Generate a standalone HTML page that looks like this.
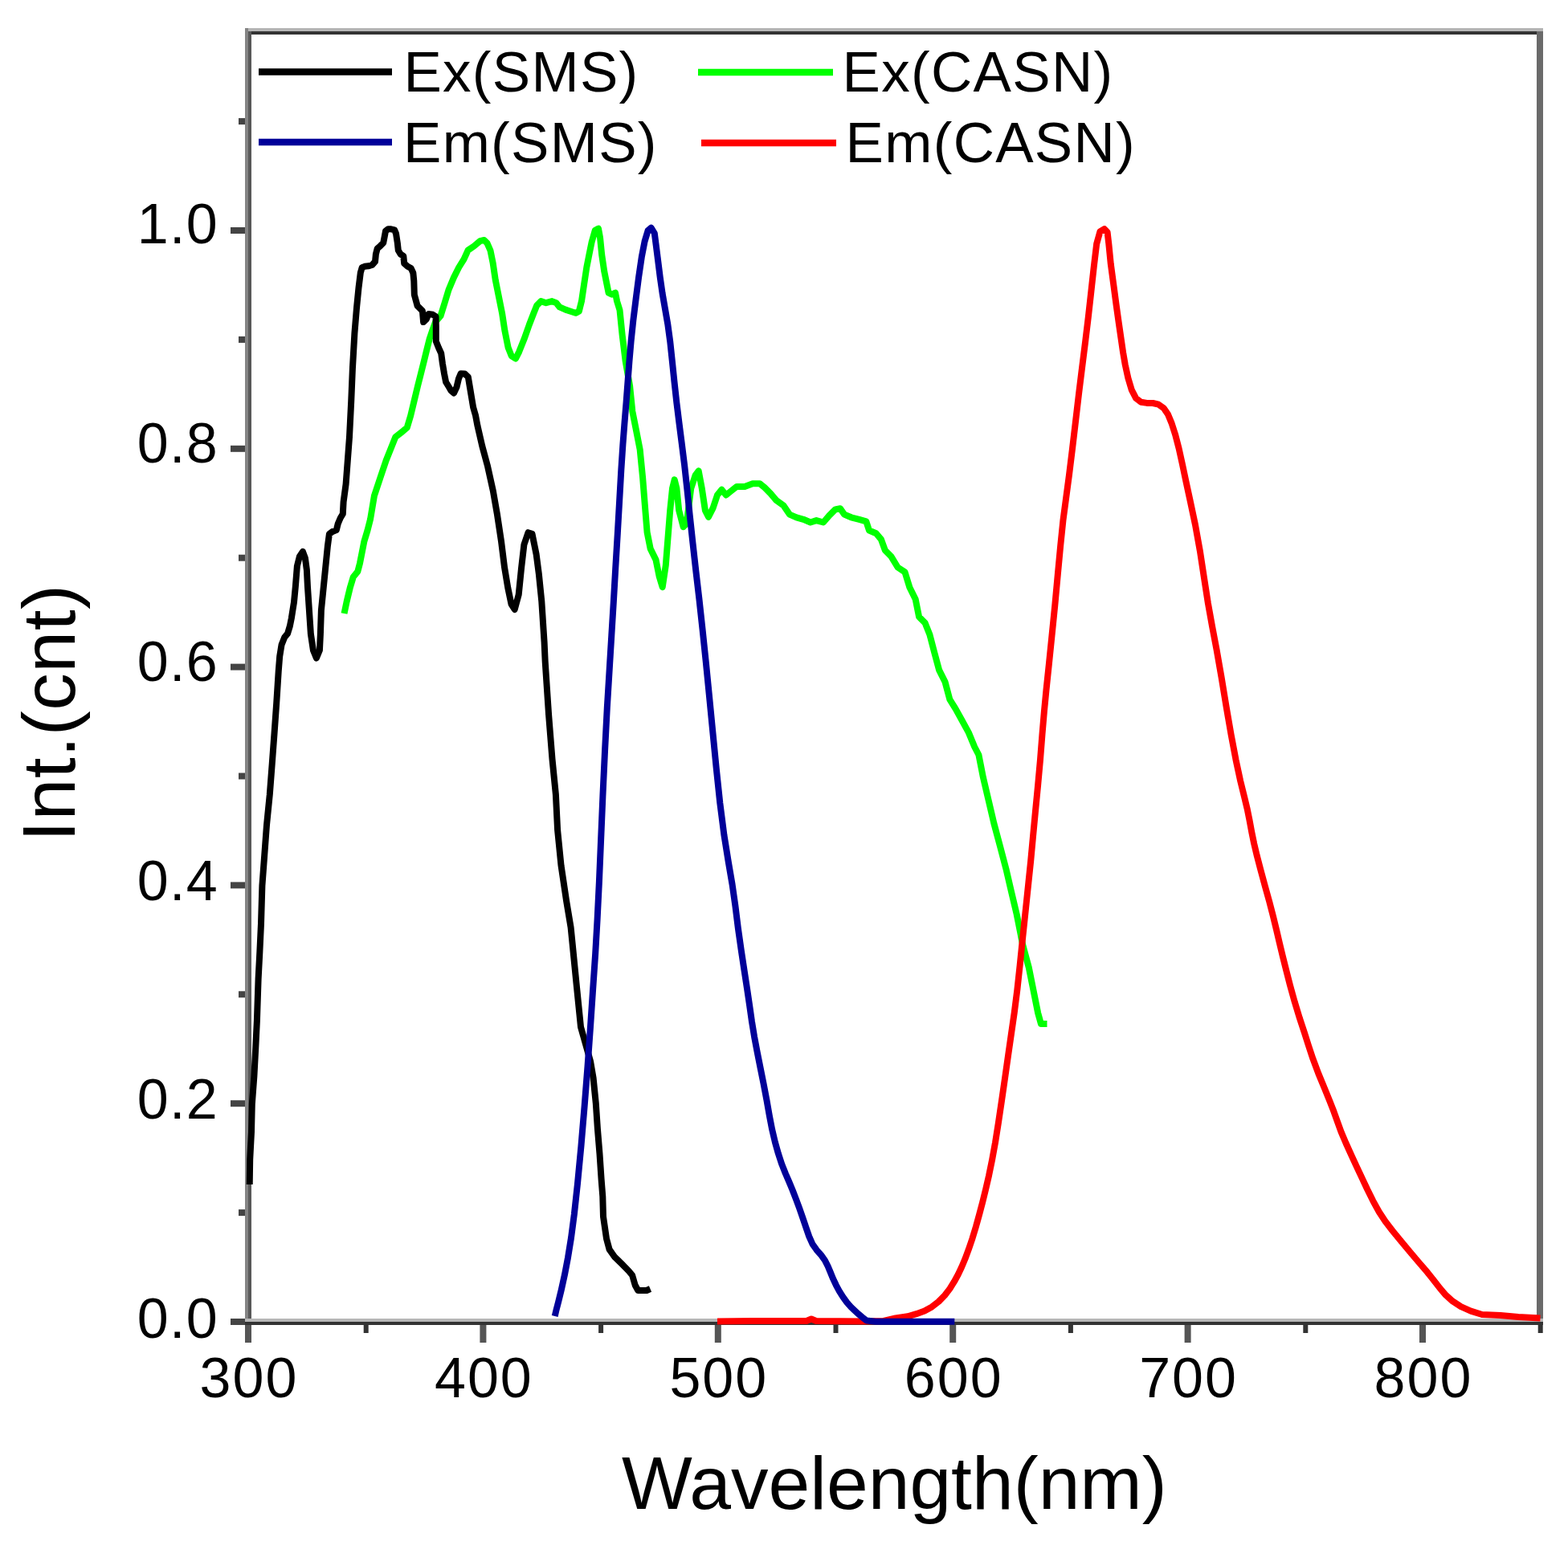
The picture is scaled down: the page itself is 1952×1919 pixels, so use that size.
<!DOCTYPE html>
<html><head><meta charset="utf-8"><title>Spectra</title>
<style>
html,body{margin:0;padding:0;background:#fff;}
body{width:1952px;height:1919px;overflow:hidden;}
svg{display:block;}
text{font-family:"Liberation Sans",Arial,sans-serif;fill:#000;}
.tl{font-size:70px;}
.xl{letter-spacing:2px;}
.yl{letter-spacing:1.3px;}
.at{font-size:93px;}
.lg{font-size:71px;letter-spacing:1.3px;}
</style></head>
<body>
<svg width="1952" height="1919" viewBox="0 0 1952 1919">
<rect width="1952" height="1919" fill="#fff"/>
<rect x="305" y="35" width="1616" height="4" fill="#b5b5b5"/>
<rect x="309" y="39" width="1608" height="4" fill="#333"/>
<rect x="305" y="35" width="4" height="1615" fill="#858585"/>
<rect x="309" y="39" width="4" height="1611" fill="#595959"/>
<rect x="1913" y="39" width="8" height="1611" fill="#6a6a6a"/>
<rect x="305" y="1642" width="1616" height="4" fill="#b7b7b7"/>
<rect x="305" y="1646" width="1616" height="4" fill="#333"/>
<rect x="305.0" y="1650" width="8" height="22" fill="#555"/>
<rect x="452.7" y="1650" width="6" height="10" fill="#333"/>
<rect x="597.4" y="1650" width="8" height="22" fill="#555"/>
<rect x="745.1" y="1650" width="6" height="10" fill="#333"/>
<rect x="889.8" y="1650" width="8" height="22" fill="#555"/>
<rect x="1037.5" y="1650" width="6" height="10" fill="#333"/>
<rect x="1182.2" y="1650" width="8" height="22" fill="#555"/>
<rect x="1329.9" y="1650" width="6" height="10" fill="#333"/>
<rect x="1474.6" y="1650" width="8" height="22" fill="#555"/>
<rect x="1622.3" y="1650" width="6" height="10" fill="#333"/>
<rect x="1767.0" y="1650" width="8" height="22" fill="#555"/>
<rect x="1914.7" y="1650" width="6" height="10" fill="#333"/>
<rect x="287" y="1642.0" width="18" height="8" fill="#444"/>
<rect x="297" y="1506.1" width="8" height="8" fill="#444"/>
<rect x="287" y="1370.2" width="18" height="8" fill="#444"/>
<rect x="297" y="1234.3" width="8" height="8" fill="#444"/>
<rect x="287" y="1098.4" width="18" height="8" fill="#444"/>
<rect x="297" y="962.5" width="8" height="8" fill="#444"/>
<rect x="287" y="826.6" width="18" height="8" fill="#444"/>
<rect x="297" y="690.7" width="8" height="8" fill="#444"/>
<rect x="287" y="554.8" width="18" height="8" fill="#444"/>
<rect x="297" y="418.9" width="8" height="8" fill="#444"/>
<rect x="287" y="283.0" width="18" height="8" fill="#444"/>
<rect x="297" y="147.1" width="8" height="8" fill="#444"/>
<text x="310.0" y="1740" class="tl xl" text-anchor="middle">300</text>
<text x="602.4" y="1740" class="tl xl" text-anchor="middle">400</text>
<text x="894.8" y="1740" class="tl xl" text-anchor="middle">500</text>
<text x="1187.2" y="1740" class="tl xl" text-anchor="middle">600</text>
<text x="1479.6" y="1740" class="tl xl" text-anchor="middle">700</text>
<text x="1772.0" y="1740" class="tl xl" text-anchor="middle">800</text>
<text x="272" y="1665.5" class="tl yl" text-anchor="end">0.0</text>
<text x="272" y="1393.0" class="tl yl" text-anchor="end">0.2</text>
<text x="272" y="1120.5" class="tl yl" text-anchor="end">0.4</text>
<text x="272" y="848.0" class="tl yl" text-anchor="end">0.6</text>
<text x="272" y="575.5" class="tl yl" text-anchor="end">0.8</text>
<text x="272" y="303.0" class="tl yl" text-anchor="end">1.0</text>
<text x="774" y="1878.5" class="at">Wavelength(nm)</text>
<text transform="translate(93,1048) rotate(-90)" x="0" y="0" class="at" style="letter-spacing:0.6px">Int.(cnt)</text>
<line x1="322" y1="89.5" x2="488" y2="89.5" stroke="#000" stroke-width="8.5"/>
<text x="502.4" y="114" class="lg">Ex(SMS)</text>
<line x1="869" y1="90" x2="1037" y2="90" stroke="#00ff00" stroke-width="8.5"/>
<text x="1048.6" y="114" class="lg">Ex(CASN)</text>
<line x1="322" y1="177" x2="488" y2="177" stroke="#000099" stroke-width="8.5"/>
<text x="502" y="202" class="lg">Em(SMS)</text>
<line x1="873" y1="178" x2="1041" y2="178" stroke="#ff0000" stroke-width="8.5"/>
<text x="1052.6" y="202" class="lg">Em(CASN)</text>
<path d="M428.5,764.0 L431.6,749.2 L435.7,732.2 L439.8,718.5 L445.3,711.7 L448.0,701.4 L450.7,687.8 L453.4,674.1 L457.5,660.5 L461.0,646.8 L465.9,617.6 L473.2,595.6 L480.6,573.5 L486.5,558.8 L492.4,544.1 L500.9,537.5 L506.8,532.4 L511.2,517.6 L515.6,499.3 L520.0,480.9 L523.7,466.2 L527.4,451.5 L531.0,436.8 L534.7,422.1 L538.4,411.0 L542.0,401.0 L548.5,393.5 L553.6,377.1 L558.6,360.7 L564.9,345.6 L571.2,333.0 L577.5,322.9 L582.6,311.6 L590.1,306.5 L597.7,300.2 L602.7,299.0 L606.5,302.8 L610.5,312.0 L613.7,327.8 L616.8,348.8 L621.0,369.8 L625.2,390.8 L628.4,411.8 L632.6,432.8 L636.8,443.4 L642.0,446.5 L646.2,438.1 L652.5,422.3 L658.8,404.5 L664.1,390.8 L668.3,380.3 L673.5,375.1 L679.8,377.2 L687.2,375.1 L692.5,377.2 L696.7,382.4 L704.0,385.6 L710.3,387.7 L716.6,389.8 L720.8,387.7 L724.0,375.1 L727.1,354.1 L730.3,333.0 L733.4,317.3 L736.6,301.5 L740.8,286.8 L745.0,284.7 L747.1,296.3 L749.2,317.3 L752.3,338.3 L755.5,354.1 L757.6,364.6 L761.8,366.7 L766.0,364.6 L768.1,375.1 L771.5,386.1 L774.7,417.6 L778.6,449.2 L784.1,480.7 L787.3,512.2 L792.0,535.9 L796.7,560.0 L797.4,567.3 L800.1,594.6 L802.8,628.8 L805.6,662.9 L809.7,683.4 L816.5,697.1 L820.6,717.5 L824.7,731.2 L828.8,703.9 L831.5,669.7 L834.2,635.6 L837.0,608.3 L839.7,597.4 L842.4,608.3 L845.2,635.6 L850.6,656.1 L854.7,652.0 L860.2,608.3 L865.6,591.9 L869.7,586.4 L873.8,608.3 L877.9,635.6 L882.0,643.8 L887.5,632.9 L893.0,616.5 L898.4,609.7 L903.9,616.5 L910.7,611.0 L917.2,605.9 L927.1,605.9 L937.0,602.2 L945.7,602.2 L951.9,607.2 L959.3,614.6 L966.7,623.3 L975.4,629.5 L982.9,640.6 L991.5,644.3 L1000.2,646.8 L1008.9,650.5 L1016.3,648.1 L1025.0,650.5 L1032.4,641.9 L1039.9,634.4 L1046.0,633.2 L1051.0,640.6 L1059.7,644.3 L1069.6,646.8 L1078.3,649.3 L1082.0,660.5 L1090.7,664.2 L1096.9,671.6 L1101.8,685.2 L1109.2,692.7 L1117.6,706.5 L1126.5,712.4 L1132.4,731.5 L1139.7,746.2 L1144.1,768.2 L1151.5,775.6 L1157.4,790.3 L1163.2,812.4 L1169.1,834.4 L1176.5,849.1 L1182.4,871.2 L1189.7,882.9 L1197.1,896.2 L1205.9,912.4 L1213.2,930.0 L1218.4,940.0 L1224.0,968.4 L1230.7,996.8 L1237.3,1025.1 L1244.9,1053.5 L1252.4,1081.9 L1259.0,1110.3 L1265.7,1138.6 L1273.2,1176.5 L1280.8,1204.9 L1286.5,1233.2 L1292.2,1261.6 L1295.9,1274.9 L1303.5,1274.9" fill="none" stroke="#00ff00" stroke-width="8" stroke-linejoin="round" stroke-linecap="butt"/>
<path d="M310.7,1475.0 L311.2,1444.0 L313.0,1409.5 L313.8,1375.0 L316.4,1340.0 L318.2,1305.7 L319.9,1271.0 L321.6,1219.0 L323.4,1184.6 L325.0,1150.0 L326.4,1103.0 L329.2,1065.2 L332.0,1027.3 L335.8,989.4 L338.7,951.5 L341.5,913.6 L344.2,875.8 L345.2,860.0 L346.7,836.2 L348.2,817.3 L350.5,803.1 L354.3,793.6 L358.1,788.9 L360.9,779.5 L362.8,770.0 L366.0,749.8 L367.9,729.8 L369.9,704.9 L372.9,692.9 L376.9,686.9 L379.9,694.9 L381.9,709.9 L382.9,729.8 L384.9,759.8 L386.9,789.7 L389.9,809.7 L393.9,819.6 L397.9,809.7 L398.9,789.7 L399.9,759.8 L401.9,739.8 L403.9,719.8 L405.9,699.9 L407.9,679.9 L409.9,665.0 L413.9,662.0 L418.8,660.0 L420.8,652.0 L423.8,645.0 L426.8,640.0 L427.6,625.0 L430.6,602.9 L432.8,573.5 L435.0,544.1 L437.2,500.0 L438.9,459.0 L441.4,415.0 L444.0,383.4 L446.5,358.2 L448.8,339.7 L450.7,333.2 L453.9,331.8 L458.6,331.3 L463.2,330.0 L467.0,325.8 L467.9,316.5 L469.7,309.5 L473.5,306.2 L477.2,302.5 L479.0,293.2 L480.0,287.7 L483.2,285.3 L486.9,285.3 L491.1,286.3 L493.0,290.9 L494.8,302.5 L495.8,311.8 L498.6,316.5 L502.3,318.8 L503.2,328.1 L507.4,331.8 L511.6,334.1 L514.3,339.7 L515.3,350.0 L515.8,367.0 L519.6,380.9 L525.9,387.2 L527.1,401.1 L530.9,397.3 L533.4,391.0 L538.8,391.8 L542.5,394.1 L542.8,405.8 L542.8,425.0 L546.0,433.0 L549.2,440.0 L550.9,452.6 L553.0,465.2 L555.1,475.7 L558.9,482.0 L561.5,486.5 L565.0,489.5 L568.5,482.0 L571.0,471.5 L573.6,465.2 L578.6,465.5 L582.8,469.4 L584.9,482.0 L587.0,494.6 L589.1,507.2 L592.1,517.7 L594.5,530.4 L600.3,555.6 L607.1,580.8 L613.8,611.1 L618.8,639.7 L623.9,673.3 L628.1,706.9 L632.3,732.1 L636.5,752.3 L640.7,759.0 L645.7,740.5 L649.1,706.9 L652.4,678.3 L657.5,663.2 L662.5,664.9 L667.6,690.1 L670.9,715.3 L674.3,748.9 L677.6,800.0 L678.7,824.1 L683.1,890.3 L687.5,945.4 L691.9,989.5 L694.1,1033.6 L698.5,1077.7 L705.1,1121.8 L710.6,1154.9 L713.1,1180.0 L718.0,1229.4 L723.0,1278.8 L735.0,1321.5 L738.6,1342.5 L741.8,1374.0 L743.9,1405.5 L746.5,1437.0 L748.6,1468.6 L750.3,1490.0 L751.0,1515.0 L755.0,1542.5 L758.6,1555.9 L764.8,1564.8 L773.8,1573.7 L782.7,1582.7 L787.1,1588.0 L790.7,1600.5 L794.3,1607.0 L805.0,1607.0 L809.5,1605.0" fill="none" stroke="#000000" stroke-width="8" stroke-linejoin="round" stroke-linecap="butt"/>
<path d="M893.0,1645.5 L936.0,1645.0 L1004.0,1645.0 L1010.0,1642.5 L1016.0,1645.0 L1075.0,1645.5 L1100.0,1645.0 L1115.0,1641.5 L1130.0,1639.3 L1140.8,1636.2 L1151.0,1632.5 L1160.1,1627.4 L1168.5,1620.9 L1176.0,1613.2 L1182.4,1604.9 L1187.8,1596.2 L1192.7,1587.3 L1197.2,1577.8 L1201.6,1567.3 L1205.9,1555.7 L1210.5,1542.2 L1215.0,1527.3 L1219.2,1512.1 L1223.2,1497.0 L1227.1,1481.1 L1231.1,1463.8 L1235.0,1444.7 L1239.0,1422.9 L1243.0,1397.7 L1247.0,1370.6 L1251.0,1343.0 L1254.9,1315.5 L1258.8,1288.4 L1262.7,1261.4 L1266.3,1233.1 L1269.7,1201.7 L1273.3,1166.4 L1277.1,1130.4 L1280.4,1098.9 L1283.2,1072.0 L1285.8,1043.9 L1288.8,1012.2 L1292.0,979.2 L1295.0,946.1 L1297.5,914.3 L1299.9,886.0 L1302.5,859.0 L1305.8,827.7 L1309.5,791.4 L1313.3,753.6 L1316.8,715.7 L1320.2,679.5 L1323.4,648.3 L1327.0,621.2 L1330.9,592.0 L1335.0,558.7 L1339.1,524.0 L1343.1,489.9 L1347.1,457.4 L1351.0,426.4 L1354.8,395.1 L1358.4,362.8 L1361.8,331.9 L1365.2,303.6 L1369.4,288.5 L1374.8,285.1 L1378.6,289.3 L1380.3,303.6 L1382.8,328.8 L1386.2,354.0 L1389.5,378.9 L1392.8,402.4 L1395.7,422.4 L1398.1,438.9 L1400.8,454.5 L1404.4,470.8 L1408.8,485.6 L1414.1,495.8 L1420.6,500.8 L1427.8,501.9 L1435.2,502.0 L1442.3,503.7 L1448.7,508.2 L1454.0,516.0 L1458.6,527.1 L1463.2,541.5 L1467.6,558.5 L1471.9,578.0 L1476.4,599.3 L1481.7,623.8 L1488.0,653.6 L1494.0,687.0 L1499.1,720.4 L1503.9,751.4 L1509.0,779.7 L1514.5,808.8 L1520.5,843.0 L1526.6,880.1 L1532.6,914.9 L1538.5,946.1 L1544.2,972.6 L1549.1,992.5 L1552.7,1007.5 L1555.5,1021.4 L1558.2,1035.9 L1561.2,1050.6 L1564.8,1065.8 L1569.5,1083.8 L1574.9,1103.7 L1580.2,1122.7 L1584.8,1140.5 L1589.0,1157.8 L1593.0,1174.9 L1597.0,1191.5 L1601.2,1208.3 L1606.0,1226.9 L1611.6,1247.2 L1617.8,1267.6 L1623.8,1285.8 L1629.0,1302.1 L1634.5,1318.7 L1641.3,1336.9 L1648.9,1355.2 L1655.5,1371.4 L1660.5,1384.3 L1664.8,1396.3 L1669.6,1409.6 L1675.5,1423.5 L1682.0,1437.8 L1688.8,1452.6 L1695.5,1466.9 L1702.0,1480.8 L1709.2,1495.3 L1716.7,1509.0 L1724.4,1520.8 L1733.6,1532.7 L1745.1,1546.8 L1757.2,1561.3 L1767.6,1573.5 L1776.8,1584.2 L1785.2,1594.7 L1792.7,1604.4 L1799.9,1612.8 L1808.4,1620.4 L1818.7,1627.2 L1831.0,1632.6 L1845.0,1637.0 L1868.0,1638.0 L1890.0,1640.0 L1917.5,1641.5" fill="none" stroke="#ff0000" stroke-width="8" stroke-linejoin="round" stroke-linecap="butt"/>
<path d="M690.7,1639.0 L692.5,1631.4 L695.2,1621.0 L698.8,1606.2 L702.9,1587.7 L707.0,1566.2 L711.0,1541.5 L714.9,1511.8 L719.0,1473.9 L723.4,1427.7 L727.6,1377.9 L731.5,1328.1 L735.0,1278.8 L738.2,1230.9 L741.2,1187.2 L743.6,1145.1 L745.9,1098.2 L748.1,1046.0 L750.4,991.6 L753.0,935.7 L755.8,881.5 L758.7,833.8 L761.3,791.2 L763.9,748.3 L766.4,704.8 L768.9,662.9 L771.2,622.7 L773.3,585.5 L775.4,553.7 L777.5,526.3 L779.6,500.8 L781.5,475.6 L783.4,450.4 L785.6,425.0 L788.3,399.1 L791.6,372.4 L795.1,345.3 L798.8,320.1 L802.6,300.5 L806.6,287.1 L810.7,283.7 L814.8,290.5 L816.9,306.7 L819.2,325.0 L821.7,345.1 L824.6,365.2 L827.9,384.3 L831.3,403.8 L834.3,425.9 L836.9,450.4 L839.5,475.6 L842.3,501.1 L845.5,526.9 L848.8,552.7 L852.1,579.3 L855.4,609.2 L858.8,642.4 L862.5,676.6 L866.3,710.8 L870.4,745.8 L874.5,783.4 L878.8,824.7 L883.1,868.2 L887.4,912.3 L891.7,956.4 L896.3,1000.0 L901.5,1040.4 L906.9,1074.0 L911.6,1101.5 L915.4,1128.1 L918.9,1156.3 L922.8,1183.8 L926.6,1208.9 L930.1,1231.6 L933.2,1252.7 L936.0,1272.4 L939.1,1291.2 L942.7,1310.2 L946.6,1329.9 L950.6,1349.8 L954.4,1369.8 L957.8,1389.1 L961.2,1406.7 L964.9,1422.3 L968.9,1436.6 L973.3,1449.9 L977.9,1461.5 L982.4,1471.9 L986.7,1482.2 L990.9,1493.1 L995.0,1504.1 L999.0,1515.6 L1003.1,1527.7 L1007.2,1539.6 L1011.6,1549.5 L1016.8,1556.8 L1022.2,1562.9 L1026.9,1569.5 L1030.6,1576.8 L1033.9,1584.6 L1037.1,1592.4 L1040.8,1600.3 L1045.0,1608.1 L1049.6,1615.4 L1054.3,1621.9 L1059.1,1627.3 L1063.8,1631.8 L1068.4,1636.1 L1073.4,1640.3 L1078.9,1644.6 L1090.0,1645.8 L1188.3,1645.8" fill="none" stroke="#000099" stroke-width="8" stroke-linejoin="round" stroke-linecap="butt"/>
</svg>
</body></html>
